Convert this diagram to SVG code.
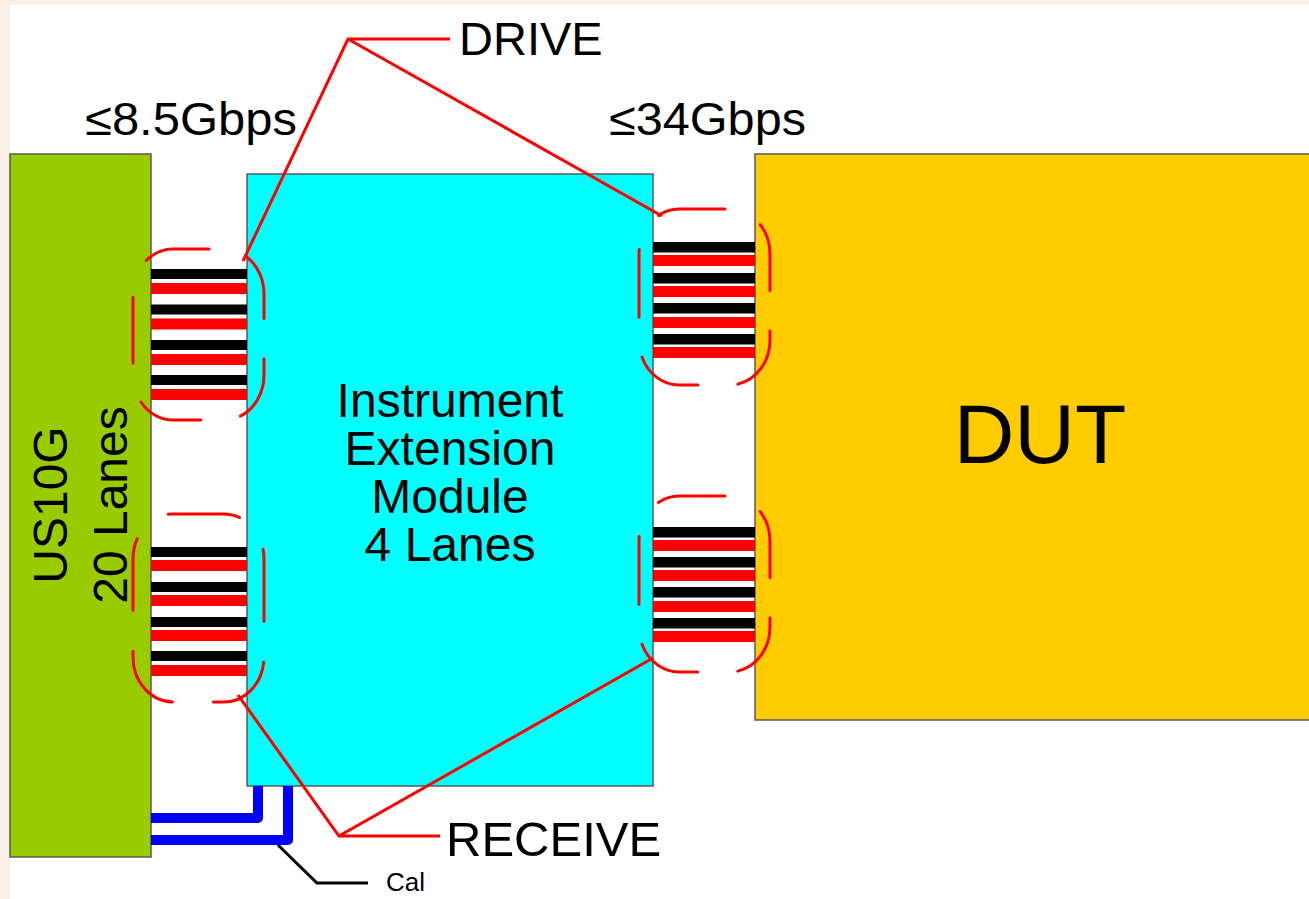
<svg xmlns="http://www.w3.org/2000/svg" width="1309" height="899" viewBox="0 0 1309 899">
<style>
text{font-family:"Liberation Sans",Arial,sans-serif;fill:#000}
.box{stroke:#5a5a5a;stroke-width:1.5}
.blk{fill:#000}
.red{fill:#ff0000}
.brk{fill:none;stroke:#ff0000;stroke-width:3;stroke-linecap:round}
.lead{fill:none;stroke:#ff0000;stroke-width:3}
.cal{fill:none;stroke:#0000ff;stroke-width:10;stroke-linejoin:round}
</style>
<rect x="0" y="0" width="1309" height="899" fill="#ffffff"/>
<rect x="0" y="0" width="1309" height="5" fill="#f9efe6"/>
<rect x="0" y="0" width="10" height="899" fill="#f9efe6"/>

<g id="us10g">
<rect class="box" x="10" y="154" width="141" height="703" fill="#99cc00"/>
<text transform="translate(67,505) rotate(-90)" font-size="48" text-anchor="middle">US10G</text>
<text transform="translate(127,505) rotate(-90)" font-size="48" text-anchor="middle">20 Lanes</text>
</g>
<g id="iem">
<rect class="box" x="247" y="174" width="406" height="612" fill="#00ffff"/>
<text x="450" y="417" font-size="48" text-anchor="middle">Instrument</text>
<text x="450" y="465" font-size="48" text-anchor="middle">Extension</text>
<text x="450" y="513" font-size="48" text-anchor="middle">Module</text>
<text x="450" y="561" font-size="48" text-anchor="middle">4 Lanes</text>
</g>
<g id="dut">
<rect class="box" x="755" y="154" width="560" height="566" fill="#ffcc00"/>
<text x="1040" y="463" font-size="84" text-anchor="middle">DUT</text>
</g>
<g id="rate-left"><text x="85" y="135" font-size="46" textLength="212" lengthAdjust="spacingAndGlyphs">≤8.5Gbps</text></g>
<g id="rate-right"><text x="609" y="135" font-size="46" textLength="197" lengthAdjust="spacingAndGlyphs">≤34Gbps</text></g>
<g id="drive-label"><text x="459" y="55" font-size="47">DRIVE</text></g>
<g id="receive-label"><text x="446" y="856" font-size="49">RECEIVE</text></g>
<g id="cal-label"><text x="386" y="891" font-size="26">Cal</text></g>

<g id="connectors">
<g id="bundle-left-top">
<rect class="blk" x="151" y="269" width="96" height="10"/>
<rect class="red" x="151" y="283" width="96" height="11"/>
<rect class="blk" x="151" y="304.5" width="96" height="10"/>
<rect class="red" x="151" y="318.5" width="96" height="11"/>
<rect class="blk" x="151" y="340" width="96" height="10"/>
<rect class="red" x="151" y="354" width="96" height="11"/>
<rect class="blk" x="151" y="375" width="96" height="10"/>
<rect class="red" x="151" y="389" width="96" height="11"/>
</g>
<g id="bundle-left-bottom">
<rect class="blk" x="151" y="547" width="96" height="10"/>
<rect class="red" x="151" y="560" width="96" height="11"/>
<rect class="blk" x="151" y="582" width="96" height="10"/>
<rect class="red" x="151" y="595" width="96" height="11"/>
<rect class="blk" x="151" y="617" width="96" height="10"/>
<rect class="red" x="151" y="630" width="96" height="11"/>
<rect class="blk" x="151" y="651" width="96" height="10"/>
<rect class="red" x="151" y="665" width="96" height="11"/>
</g>
<g id="bundle-right-top">
<rect class="blk" x="653" y="242" width="102" height="10.5"/>
<rect class="red" x="653" y="255" width="102" height="11"/>
<rect class="blk" x="653" y="273" width="102" height="10.5"/>
<rect class="red" x="653" y="286" width="102" height="11"/>
<rect class="blk" x="653" y="303" width="102" height="10.5"/>
<rect class="red" x="653" y="317" width="102" height="11"/>
<rect class="blk" x="653" y="334" width="102" height="10.5"/>
<rect class="red" x="653" y="347" width="102" height="11"/>
</g>
<g id="bundle-right-bottom">
<rect class="blk" x="653" y="527" width="102" height="10.5"/>
<rect class="red" x="653" y="540" width="102" height="11"/>
<rect class="blk" x="653" y="557" width="102" height="10.5"/>
<rect class="red" x="653" y="570" width="102" height="11"/>
<rect class="blk" x="653" y="587" width="102" height="10.5"/>
<rect class="red" x="653" y="601" width="102" height="11"/>
<rect class="blk" x="653" y="618" width="102" height="10.5"/>
<rect class="red" x="653" y="631" width="102" height="11"/>
</g>
<g id="brackets">
<rect class="brk" x="133" y="249" width="131" height="171" rx="40" ry="45" stroke-dasharray="66 40.2" stroke-dashoffset="30"/>
<rect class="brk" x="133" y="514" width="131" height="188" rx="40" ry="45" stroke-dasharray="72 41" stroke-dashoffset="5"/>
<rect class="brk" x="639" y="209" width="131" height="176" rx="40" ry="45" stroke-dasharray="68 40.2" stroke-dashoffset="22"/>
<rect class="brk" x="639" y="496" width="131" height="176" rx="40" ry="45" stroke-dasharray="68 40.2" stroke-dashoffset="22"/>
</g>
<g id="drive-leads">
<polyline class="lead" points="450,39 348,39 243,261"/>
<line class="lead" x1="348" y1="39" x2="662" y2="216"/>
</g>
<g id="receive-leads">
<polyline class="lead" points="440,836 339,836 238,695"/>
<line class="lead" x1="339" y1="836" x2="653" y2="658"/>
</g>
<g id="cal-lines">
<path class="cal" d="M151,818 H258 V786"/>
<path class="cal" d="M151,840 H288 V786"/>
<polyline fill="none" stroke="#000" stroke-width="3" points="278,845 317,883 368,883"/>
</g>
</g>
</svg>
